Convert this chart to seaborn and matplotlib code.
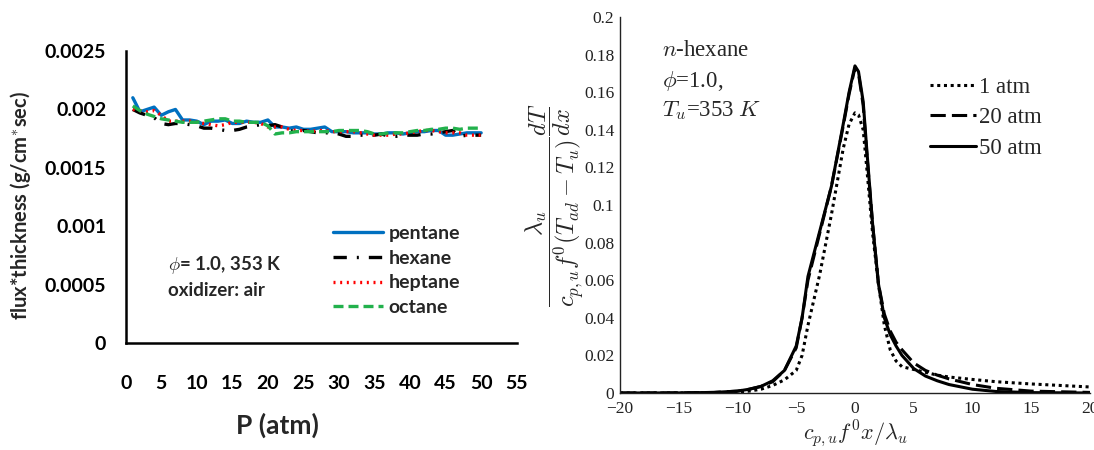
import numpy as np
import pandas as pd
import matplotlib
matplotlib.use("Agg")
import matplotlib.pyplot as plt
import seaborn as sns

# ---------------- data: left panel ----------------
pressure = list(range(1, 51))
pentane = [0.00210, 0.00198, 0.00200, 0.00202, 0.00195, 0.00198, 0.00200, 0.00191, 0.00191, 0.00190,
           0.00187, 0.00190, 0.00190, 0.00191, 0.00188, 0.00188, 0.00190, 0.00189, 0.00189, 0.00191,
           0.00185, 0.00185, 0.00184, 0.00185, 0.00183, 0.00183, 0.00184, 0.00185, 0.00181, 0.00181,
           0.00181, 0.00180, 0.00180, 0.00180, 0.00179, 0.00179, 0.00180, 0.00180, 0.00179, 0.00180,
           0.00181, 0.00181, 0.00182, 0.00182, 0.00178, 0.00178, 0.00179, 0.00180, 0.00180, 0.00180]
hexane = [0.00200, 0.00197, 0.00195, 0.00193, 0.00188, 0.00187, 0.00188, 0.00188, 0.00187, 0.00186,
          0.00184, 0.00184, 0.00183, 0.00182, 0.00182, 0.00183, 0.00185, 0.00186, 0.00187, 0.00186,
          0.00187, 0.00185, 0.00182, 0.00181, 0.00182, 0.00181, 0.00180, 0.00180, 0.00180, 0.00179,
          0.00177, 0.00177, 0.00178, 0.00178, 0.00178, 0.00179, 0.00177, 0.00177, 0.00178, 0.00178,
          0.00178, 0.00179, 0.00179, 0.00180, 0.00181, 0.00182, 0.00177, 0.00178, 0.00178, 0.00178]
heptane = [0.00200, 0.00199, 0.00198, 0.00199, 0.00195, 0.00190, 0.00190, 0.00190, 0.00190, 0.00189,
           0.00188, 0.00187, 0.00186, 0.00187, 0.00189, 0.00189, 0.00189, 0.00189, 0.00188, 0.00185,
           0.00185, 0.00185, 0.00183, 0.00182, 0.00182, 0.00181, 0.00182, 0.00182, 0.00181, 0.00181,
           0.00181, 0.00181, 0.00180, 0.00179, 0.00178, 0.00178, 0.00178, 0.00179, 0.00179, 0.00180,
           0.00181, 0.00182, 0.00182, 0.00181, 0.00180, 0.00180, 0.00180, 0.00178, 0.00178, 0.00178]
octane = [0.00203, 0.00199, 0.00196, 0.00194, 0.00192, 0.00191, 0.00190, 0.00189, 0.00189, 0.00189,
          0.00190, 0.00191, 0.00192, 0.00192, 0.00190, 0.00190, 0.00189, 0.00189, 0.00189, 0.00186,
          0.00179, 0.00180, 0.00180, 0.00181, 0.00181, 0.00181, 0.00181, 0.00181, 0.00181, 0.00182,
          0.00182, 0.00182, 0.00182, 0.00181, 0.00179, 0.00179, 0.00180, 0.00180, 0.00180, 0.00181,
          0.00182, 0.00182, 0.00183, 0.00183, 0.00184, 0.00184, 0.00183, 0.00184, 0.00184, 0.00184]
fuel_names = ["pentane", "hexane", "heptane", "octane"]
left_xticks = [0, 5, 10, 15, 20, 25, 30, 35, 40, 45, 50, 55]
left_yticks = [0, 0.0005, 0.001, 0.0015, 0.002, 0.0025]
left_yticklabels = ["0", "0.0005", "0.001", "0.0015", "0.002", "0.0025"]

# ---------------- data: right panel ----------------
xi = [-20, -15, -12, -10, -9, -8, -7, -6, -5, -4.5, -4, -3, -2, -1, -0.5, 0, 0.3, 0.7, 1, 1.5,
      2, 2.5, 3, 3.5, 4, 5, 6, 7, 8, 10, 12, 15, 20]
atm50 = [0, 0.00005, 0.0003, 0.001, 0.002, 0.0035, 0.0065, 0.012, 0.025, 0.04, 0.062, 0.086, 0.11,
         0.143, 0.16, 0.174, 0.171, 0.155, 0.13, 0.09, 0.058, 0.04, 0.031, 0.025, 0.02, 0.013, 0.009,
         0.0065, 0.0045, 0.002, 0.0008, 0.0002, 0.0]
atm20 = [0, 0.00005, 0.0003, 0.001, 0.002, 0.0035, 0.006, 0.012, 0.024, 0.04, 0.06, 0.085, 0.11,
         0.142, 0.159, 0.173, 0.17, 0.153, 0.128, 0.09, 0.058, 0.042, 0.033, 0.027, 0.023, 0.016, 0.012,
         0.0095, 0.0075, 0.0045, 0.0025, 0.001, 0.0003]
atm1 = [0, 0.00002, 0.0001, 0.0004, 0.001, 0.002, 0.004, 0.007, 0.012, 0.02, 0.036, 0.063, 0.095,
        0.13, 0.143, 0.149, 0.148, 0.14, 0.12, 0.085, 0.058, 0.036, 0.023, 0.017, 0.014, 0.0125, 0.011,
        0.0095, 0.0085, 0.0072, 0.006, 0.0048, 0.0032]
right_xticks = [-20, -15, -10, -5, 0, 5, 10, 15, 20]
right_yticks = [0, 0.02, 0.04, 0.06, 0.08, 0.1, 0.12, 0.14, 0.16, 0.18, 0.2]
right_yticklabels = ["0", "0.02", "0.04", "0.06", "0.08", "0.1", "0.12", "0.14", "0.16", "0.18", "0.2"]

sns.set_theme(style="white")
plt.rcParams["font.family"] = ["Lato", "DejaVu Sans"]
plt.rcParams["mathtext.fontset"] = "cm"

fig = plt.figure(figsize=(10.94, 4.5), dpi=100)

# ================= left panel =================
axL = fig.add_axes([0.1149, 0.2371, 0.3574, 0.6496])
styles = {
    "pentane": dict(color="#0070C0", linestyle="-"),
    "hexane": dict(color="black", linestyle=(0, (4, 3, 0.6, 3))),
    "heptane": dict(color="#FF0000", linestyle=(0, (0.6, 1.4))),
    "octane": dict(color="#22B14C", linestyle=(0, (3, 1.5))),
}
series = {"pentane": pentane, "hexane": hexane, "heptane": heptane, "octane": octane}
for name in fuel_names:
    sns.lineplot(x=pressure, y=series[name], ax=axL, label=name, linewidth=2.4, **styles[name])

axL.set_xlim(0, 55)
axL.set_ylim(0, 0.0025)
axL.set_xticks(left_xticks)
axL.set_xticklabels([str(t) for t in left_xticks])
axL.set_yticks(left_yticks)
axL.set_yticklabels(left_yticklabels)
for side in ["top", "right"]:
    axL.spines[side].set_visible(False)
for side in ["left", "bottom"]:
    axL.spines[side].set_color("black")
    axL.spines[side].set_linewidth(1.8)
axL.tick_params(axis="both", direction="out", length=5, width=1.5, colors="black", labelsize=14)
axL.tick_params(axis="x", pad=18)
axL.tick_params(axis="y", pad=9)
for lab in axL.get_xticklabels() + axL.get_yticklabels():
    lab.set_fontweight("bold")
axL.set_xlabel("P (atm)", fontsize=19, fontweight="bold", va="center")
axL.xaxis.set_label_coords(0.389, -0.28)
axL.set_ylabel("flux*thickness (g/cm$^{*}$sec)", fontsize=14.5, fontweight="bold", va="center")
axL.yaxis.set_label_coords(-0.268, 0.47)
axL.text(0.108, 0.268, r"$\phi$= 1.0, 353 K", transform=axL.transAxes, fontsize=13.5,
         fontweight="bold", va="center")
axL.text(0.108, 0.182, "oxidizer: air", transform=axL.transAxes, fontsize=13.5,
         fontweight="bold", va="center")
axL.legend(loc="upper left", bbox_to_anchor=(0.53, 0.405), frameon=False,
           prop=dict(size=14, weight="bold"), handlelength=2.6, handletextpad=0.25,
           labelspacing=0.4, borderaxespad=0, borderpad=0)

# ================= right panel =================
axR = fig.add_axes([0.5667, 0.1267, 0.4296, 0.8355])
serif = ["Liberation Serif", "DejaVu Serif"]
sns.lineplot(x=xi, y=atm1, ax=axR, color="black", linestyle=(0, (1, 1.2)), linewidth=2.2, label="1 atm")
sns.lineplot(x=xi, y=atm20, ax=axR, color="black", linestyle=(0, (5, 2)), linewidth=2.2, label="20 atm")
sns.lineplot(x=xi, y=atm50, ax=axR, color="black", linestyle="-", linewidth=2.2, label="50 atm")
axR.set_xlim(-20, 20)
axR.set_ylim(0, 0.2)
axR.set_xticks(right_xticks)
axR.set_xticklabels(["\u2212" + str(-t) if t < 0 else str(t) for t in right_xticks], family=serif)
axR.set_yticks(right_yticks)
axR.set_yticklabels(right_yticklabels, family=serif)
for side in ["top", "right"]:
    axR.spines[side].set_visible(False)
for side in ["left", "bottom"]:
    axR.spines[side].set_color("#222222")
    axR.spines[side].set_linewidth(1.0)
axR.tick_params(axis="both", direction="in", length=5, width=0.8, colors="#222222",
                labelsize=12.5, pad=4)
axR.tick_params(axis="x", pad=6)
axR.set_xlabel(r"$c_{p,u}f^{0}x/\lambda_u$", fontsize=16, labelpad=1)
axR.set_ylabel(r"$\dfrac{\lambda_u}{c_{p,u}f^{0}(T_{ad}-T_u)}\dfrac{dT}{dx}$", fontsize=17.5,
               va="center")
axR.yaxis.set_label_coords(-0.138, 0.5)
axR.text(-16.4, 0.1824, r"$n$-hexane", fontsize=16.5, family=serif, va="center")
axR.text(-16.4, 0.166, r"$\phi$=1.0,", fontsize=16.5, family=serif, va="center")
axR.text(-16.4, 0.1505, r"$T_u$=353 $K$", fontsize=16.5, family=serif, va="center")
axR.legend(loc="upper left", bbox_to_anchor=(0.66, 0.84), frameon=False,
           prop=dict(family=serif, size=16.5), handlelength=2.0, handletextpad=0.15,
           labelspacing=0.4, borderaxespad=0, borderpad=0)

fig.savefig("out.png", dpi=100)
